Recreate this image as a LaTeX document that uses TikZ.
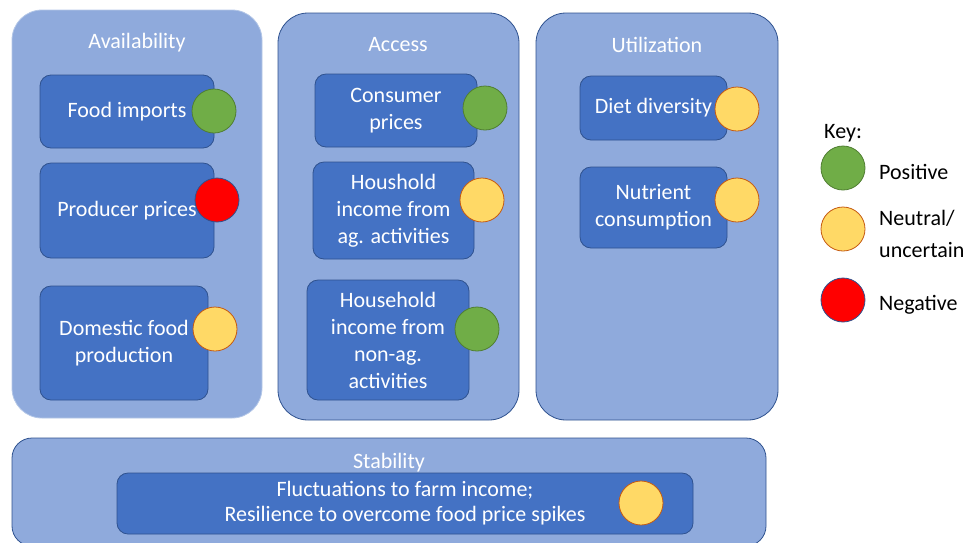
\documentclass[tikz,border=0pt]{standalone}
\usepackage{fontspec}
\setmainfont{Carlito}
\definecolor{pillarfill}{HTML}{8FAADC}
\definecolor{pillarline}{HTML}{2F528F}
\definecolor{availline}{HTML}{B4C7E7}
\definecolor{factorfill}{HTML}{4472C4}
\definecolor{posfill}{HTML}{70AD47}
\definecolor{posline}{HTML}{507E32}
\definecolor{neutfill}{HTML}{FFD966}
\definecolor{neutline}{HTML}{C55A11}
\definecolor{negfill}{HTML}{FF0000}
\begin{document}
\begin{tikzpicture}[x=1pt,y=-1pt,
        pillar/.style={draw=pillarline, fill=pillarfill, line width=0.8pt, rounded corners=30pt, inner sep=0pt},
        pillartitle/.style={text=white, font=\fontsize{22}{27}\selectfont, inner sep=0pt},
        factor/.style={draw=pillarline, fill=factorfill, line width=0.8pt, rounded corners=11pt, text=white, align=center, font=\fontsize{22}{27}\selectfont, inner sep=0pt},
        dot/.style={circle, minimum size=44pt, inner sep=0pt, line width=0.8pt},
        posdot/.style={dot, fill=posfill, draw=posline},
        neutdot/.style={dot, fill=neutfill, draw=neutline},
        negdot/.style={dot, fill=negfill, draw=pillarline},
        keytext/.style={anchor=west, align=left, font=\fontsize{22}{32}\selectfont, inner sep=0pt}]
        \useasboundingbox (0,0) rectangle (979,542);
        % pillars
        \node [pillar, draw=availline, minimum width=250pt, minimum height=408pt] (avail) at (137,214) {};
        \node [pillar, minimum width=241pt, minimum height=407pt] (access) at (398.5,216.5) {};
        \node [pillar, minimum width=242pt, minimum height=407pt] (util) at (657,216.5) {};
        \node [pillar, rounded corners=20pt, minimum width=754pt, minimum height=108pt] (stab) at (389,492) {};
        \node [pillartitle] (availtitle) at (137,43) {Availability};
        \node [pillartitle] (accesstitle) at (398,45) {Access};
        \node [pillartitle] (utiltitle) at (657,45) {Utilization};
        \node [pillartitle] (stabtitle) at (389,463) {Stability};
        % factors
        \node [factor, minimum width=174pt, minimum height=73pt] (imports) at (127,111.5) {Food imports};
        \node [factor, minimum width=174pt, minimum height=95pt] (producer) at (127,210.5) {Producer prices};
        \node [factor, minimum width=168pt, minimum height=114pt] (domestic) at (124,343) {Domestic food\\production};
        \node [factor, minimum width=162pt, minimum height=73pt] (consumer) at (396,110.5) {Consumer\\prices};
        \node [factor, minimum width=161pt, minimum height=97pt] (agincome) at (393.5,210.5) {Houshold\\income from\\ag. activities};
        \node [factor, minimum width=162pt, minimum height=120pt] (nonagincome) at (388,340) {Household\\income from\\non-ag.\\activities};
        \node [factor, minimum width=147pt, minimum height=64pt] (diet) at (653.5,108) {Diet diversity};
        \node [factor, minimum width=147pt, minimum height=81pt] (nutrient) at (653.5,207.5) {Nutrient\\consumption};
        \node [factor, font=\fontsize{22}{25}\selectfont, minimum width=576pt, minimum height=61pt] (fluct) at (405,503.5) {Fluctuations to farm income;\\Resilience to overcome food price spikes};
        % effect dots
        \node [posdot] (importsdot) at (214,111) {};
        \node [negdot] (producerdot) at (217,200) {};
        \node [neutdot] (domesticdot) at (215,329) {};
        \node [posdot] (consumerdot) at (485,108) {};
        \node [neutdot] (agincomedot) at (482,200) {};
        \node [posdot] (nonagincomedot) at (477,329) {};
        \node [neutdot] (dietdot) at (737,109) {};
        \node [neutdot] (nutrientdot) at (737,200) {};
        \node [neutdot] (fluctdot) at (641,503) {};
        % key
        \node [keytext] (keytitle) at (824,133) {Key:};
        \node [posdot] (keypos) at (843,168) {};
        \node [neutdot] (keyneut) at (843,229) {};
        \node [negdot] (keyneg) at (843,300) {};
        \node [keytext] (keypostext) at (879,172) {Positive};
        \node [keytext] (keyneuttext) at (879,234) {Neutral/\\uncertain};
        \node [keytext] (keynegtext) at (879,305) {Negative};
\end{tikzpicture}
\end{document}
